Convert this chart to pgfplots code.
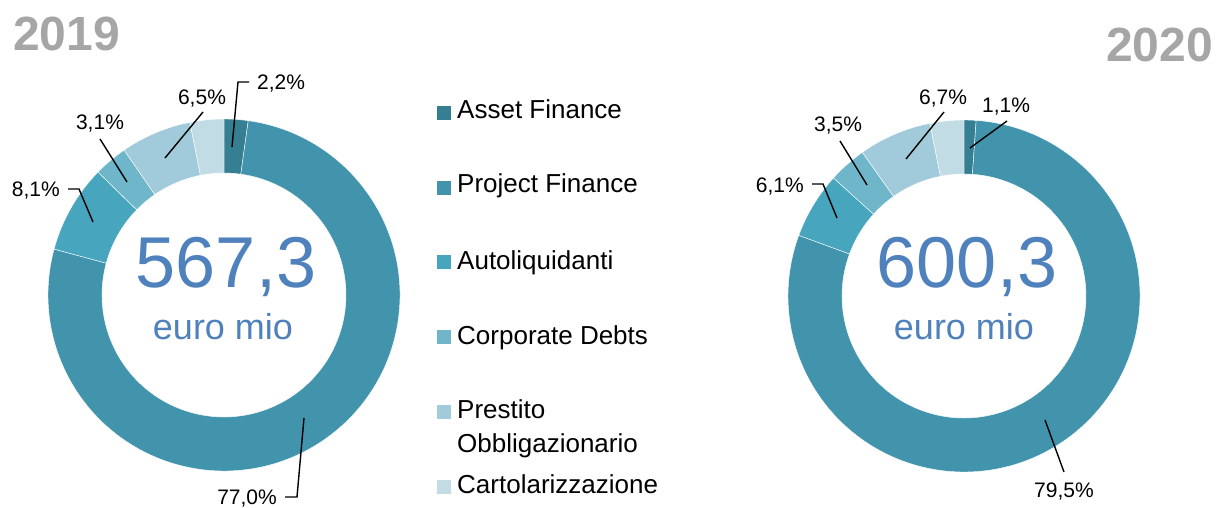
\documentclass[border=0pt]{standalone}
\usepackage{fontspec}
\setmainfont{Liberation Sans}
\usepackage{pgfplots}
\pgfplotsset{compat=1.18}

\definecolor{cAsset}{HTML}{367E92}
\definecolor{cProject}{HTML}{4294AD}
\definecolor{cAuto}{HTML}{48A5BE}
\definecolor{cCorp}{HTML}{6FB6CB}
\definecolor{cPrest}{HTML}{A1CADA}
\definecolor{cCarto}{HTML}{C1DCE5}
\definecolor{cBig}{HTML}{4F81BD}
\definecolor{cYear}{HTML}{A6A6A6}

% donut: centre x, centre y, list of share/colour (clockwise from 12 o'clock)
\newcommand\donut[3]{%
  \gdef\cum{0}%
  \foreach \v/\c in {#3}{%
    \pgfmathsetmacro\sa{90-3.6*\cum}%
    \pgfmathsetmacro\ea{90-3.6*(\cum+\v)}%
    \edef\tmp{\noexpand\fill[\c, draw=white, line width=0.4pt]
      (axis cs:#1,#2) ++(\sa:176pt) arc[start angle=\sa, end angle=\ea, radius=176pt]
      -- ++(\ea:-54pt) arc[start angle=\ea, end angle=\sa, radius=122pt] -- cycle;}%
    \tmp
    \pgfmathsetmacro\newcum{\cum+\v}\xdef\cum{\newcum}%
  }}

\newcommand\lbl{\fontsize{21}{25}\selectfont}
\newcommand\leg{\fontsize{26}{30}\selectfont}

\begin{document}
\begin{tikzpicture}
\begin{axis}[
    x=1pt, y=1pt,
    xmin=0, xmax=1224, ymin=0, ymax=507,
    hide axis, clip=false,
]
% 2019
\donut{224}{212}{2.2/cAsset, 77.0/cProject, 8.1/cAuto, 3.1/cCorp, 6.5/cPrest, 3.1/cCarto}
% 2020
\donut{964}{211}{1.1/cAsset, 79.5/cProject, 6.1/cAuto, 3.5/cCorp, 6.7/cPrest, 3.1/cCarto}

% titles
\node[anchor=base west, text=cYear, font=\fontsize{48}{52}\selectfont\bfseries, inner sep=0pt] at (axis cs:13,456) {2019};
\node[anchor=base east, text=cYear, font=\fontsize{48}{52}\selectfont\bfseries, inner sep=0pt] at (axis cs:1213,445) {2020};

% centre totals
\node[anchor=base, text=cBig, font=\fontsize{72}{76}\selectfont, inner sep=0pt] at (axis cs:226,220) {567,3};
\node[anchor=base, text=cBig, font=\fontsize{36}{40}\selectfont, inner sep=0pt] at (axis cs:223,168) {euro mio};
\node[anchor=base, text=cBig, font=\fontsize{72}{76}\selectfont, inner sep=0pt] at (axis cs:967,220) {600,3};
\node[anchor=base, text=cBig, font=\fontsize{36}{40}\selectfont, inner sep=0pt] at (axis cs:964,168) {euro mio};

% labels 2019
\draw[line width=1.4pt] (axis cs:232,360) -- (axis cs:238,425) -- (axis cs:249,425);
\node[anchor=base west, font=\lbl, inner sep=0pt] at (axis cs:257,417) {2,2\%};
\draw[line width=1.4pt] (axis cs:165,349) -- (axis cs:203,395);
\node[anchor=base, font=\lbl, inner sep=0pt] at (axis cs:202,402) {6,5\%};
\draw[line width=1.4pt] (axis cs:127,325) -- (axis cs:100,368);
\node[anchor=base, font=\lbl, inner sep=0pt] at (axis cs:100,377) {3,1\%};
\draw[line width=1.4pt] (axis cs:93,285) -- (axis cs:79,318) -- (axis cs:68,318);
\node[anchor=base east, font=\lbl, inner sep=0pt] at (axis cs:60,310) {8,1\%};
\draw[line width=1.4pt] (axis cs:304,89) -- (axis cs:297,10) -- (axis cs:285,10);
\node[anchor=base east, font=\lbl, inner sep=0pt] at (axis cs:277,3) {77,0\%};

% labels 2020
\draw[line width=1.4pt] (axis cs:970,359) -- (axis cs:1007,386);
\node[anchor=base west, font=\lbl, inner sep=0pt] at (axis cs:982,394) {1,1\%};
\draw[line width=1.4pt] (axis cs:906,348) -- (axis cs:944,395);
\node[anchor=base, font=\lbl, inner sep=0pt] at (axis cs:943,402) {6,7\%};
\draw[line width=1.4pt] (axis cs:867,322) -- (axis cs:840,366);
\node[anchor=base, font=\lbl, inner sep=0pt] at (axis cs:838,375) {3,5\%};
\draw[line width=1.4pt] (axis cs:837,289) -- (axis cs:823,323) -- (axis cs:812,323);
\node[anchor=base east, font=\lbl, inner sep=0pt] at (axis cs:804,314) {6,1\%};
\draw[line width=1.4pt] (axis cs:1045,87) -- (axis cs:1064,35);
\node[anchor=base, font=\lbl, inner sep=0pt] at (axis cs:1064,10) {79,5\%};

% legend
\fill[cAsset]   (axis cs:437,387) rectangle (axis cs:451,401);
\fill[cProject] (axis cs:437,312) rectangle (axis cs:451,326);
\fill[cAuto]    (axis cs:437,238) rectangle (axis cs:451,252);
\fill[cCorp]    (axis cs:437,163) rectangle (axis cs:451,177);
\fill[cPrest]   (axis cs:437,88)  rectangle (axis cs:451,102);
\fill[cCarto]   (axis cs:437,13)  rectangle (axis cs:451,27);
\node[anchor=base west, font=\leg, inner sep=0pt] at (axis cs:457,388) {Asset Finance};
\node[anchor=base west, font=\leg, inner sep=0pt] at (axis cs:457,314) {Project Finance};
\node[anchor=base west, font=\leg, inner sep=0pt] at (axis cs:457,238) {Autoliquidanti};
\node[anchor=base west, font=\leg, inner sep=0pt] at (axis cs:457,163) {Corporate Debts};
\node[anchor=base west, font=\leg, inner sep=0pt] at (axis cs:457,89) {Prestito};
\node[anchor=base west, font=\leg, inner sep=0pt] at (axis cs:457,55) {Obbligazionario};
\node[anchor=base west, font=\leg, inner sep=0pt] at (axis cs:457,14) {Cartolarizzazione};
\end{axis}
\pgfresetboundingbox
\useasboundingbox (0,0) rectangle (1224pt,507pt);
\end{tikzpicture}
\end{document}
